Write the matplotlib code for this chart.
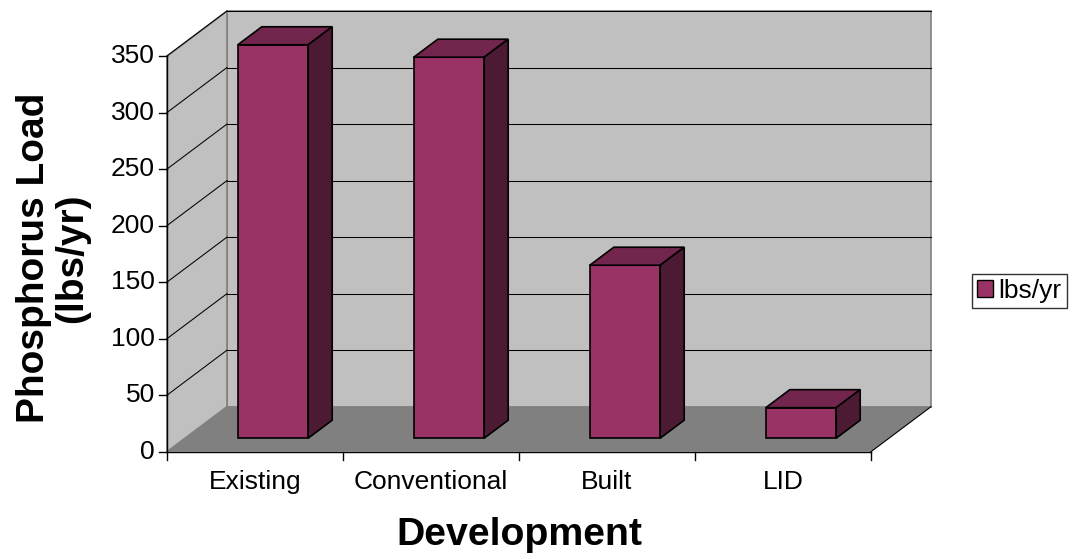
import matplotlib
matplotlib.use("Agg")
import matplotlib.pyplot as plt
from matplotlib.patches import Polygon, Patch
from matplotlib.lines import Line2D
from matplotlib.transforms import IdentityTransform

# ---- data ----
categories = ["Existing", "Conventional", "Built", "LID"]
values = [348, 337, 153, 27]
yticks = [0, 50, 100, 150, 200, 250, 300, 350]
series_name = "lbs/yr"
xlabel = "Development"
ylabel = "Phosphorus Load\n(lbs/yr)"

plt.rcParams['font.family'] = ['Liberation Sans', 'DejaVu Sans']

W, H, DPI = 1073, 559, 100
fig = plt.figure(figsize=(W / DPI, H / DPI), dpi=DPI)
ax = fig.add_axes([167 / W, 1 - 451.7 / H, 704 / W, 395.7 / H])
n = len(categories)
ymax = yticks[-1]
ax.set_xlim(0, n)
ax.set_ylim(0, ymax)
ax.axis('off')

DEPTH = (60.0, 45.0)  # display offset of the back wall (pixels)
ID = IdentityTransform()


def P(x, y, d):
    px, py = ax.transData.transform((x, y))
    return (px + d * DEPTH[0], py + d * DEPTH[1])


def poly(pts, fc, ec, lw=1.0, z=1):
    fig.add_artist(Polygon(pts, closed=True, facecolor=fc, edgecolor=ec,
                           linewidth=lw, transform=ID, zorder=z))


def line(p0, p1, color='black', lw=0.9, z=2):
    fig.add_artist(Line2D([p0[0], p1[0]], [p0[1], p1[1]], color=color,
                          linewidth=lw, transform=ID, zorder=z))


WALL = '#C0C0C0'
FLOOR = '#808080'
EDGE = '#808080'

# walls and floor
poly([P(0, 0, 1), P(n, 0, 1), P(n, ymax, 1), P(0, ymax, 1)], WALL, EDGE, 1.2, 1)
poly([P(0, 0, 0), P(0, 0, 1), P(0, ymax, 1), P(0, ymax, 0)], WALL, EDGE, 1.2, 1)
poly([P(0, 0, 0), P(n, 0, 0), P(n, 0, 1), P(0, 0, 1)], FLOOR, 'none', 1.0, 1.5)

# gridlines
for v in yticks[1:]:
    line(P(0, v, 1), P(n, v, 1), 'black', 0.75, 2)
    line(P(0, v, 0), P(0, v, 1), 'black', 0.75, 2)

# axes lines
line(P(0, 0, 0), P(0, ymax, 0), 'black', 1.0, 3)
line(P(0, 0, 0), P(n, 0, 0), 'black', 1.0, 3)
line(P(n, 0, 0), P(n, 0, 1), 'black', 0.8, 3)

# ticks and tick labels
for v in yticks:
    x0, y0 = P(0, v, 0)
    line((x0 - 8, y0), (x0, y0), 'black', 1.0, 3)
    fig.text(x0 - 12, y0, str(v), transform=ID, ha='right', va='center',
             fontsize=19)
for i in range(n + 1):
    x0, y0 = P(i, 0, 0)
    line((x0, y0), (x0, y0 - 8), 'black', 1.0, 3)
for i, c in enumerate(categories):
    x0, y0 = P(i + 0.5, 0, 0)
    fig.text(x0, y0 - 30, c, transform=ID, ha='center', va='center',
             fontsize=19)

# bars
FRONT, TOP, SIDE = '#993366', '#73264D', '#4D1A33'
f0, f1, bw = 0.3, 0.7, 0.4
for i, v in enumerate(values):
    l, r = i + 0.5 - bw / 2, i + 0.5 + bw / 2
    poly([P(l, 0, f0), P(r, 0, f0), P(r, v, f0), P(l, v, f0)], FRONT, 'black', 1.2, 5)
    poly([P(l, v, f0), P(r, v, f0), P(r, v, f1), P(l, v, f1)], TOP, 'black', 1.2, 5)
    poly([P(r, 0, f0), P(r, 0, f1), P(r, v, f1), P(r, v, f0)], SIDE, 'black', 1.2, 5)

# axis titles
xc, yb = P(n / 2, 0, 0)
fig.text(xc, yb - 83, xlabel, transform=ID, ha='center', va='center',
         fontsize=28.3, fontweight='bold')
_, ymid0 = P(0, ymax / 2, 0)
fig.text(53, ymid0 - 4, ylabel, transform=ID, ha='center', va='center',
         rotation=90, fontsize=28, fontweight='bold', linespacing=1.1)

# legend
leg = fig.legend(handles=[Patch(facecolor=FRONT, edgecolor='black')],
                 labels=[series_name], loc='center left',
                 bbox_to_anchor=(972 / W, 1 - 291 / H), fontsize=19,
                 frameon=True, fancybox=False, edgecolor='black',
                 handlelength=0.6, handleheight=0.6, handletextpad=0.2,
                 borderpad=0.2, borderaxespad=0)
leg.get_frame().set_linewidth(1.0)

fig.savefig('out.png', dpi=DPI)
